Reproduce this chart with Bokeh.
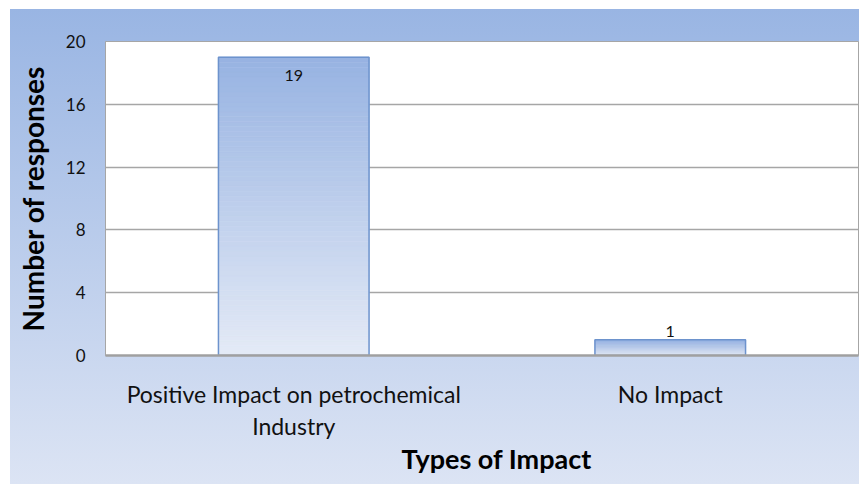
import numpy as np
from bokeh.plotting import figure
from bokeh.models import FixedTicker, Title, ColumnDataSource
from bokeh.embed import file_html
from bokeh.resources import INLINE
from bokeh.core.properties import value

# ---- data ----
categories = ["Positive Impact on petrochemical\nIndustry", "No Impact"]
responses = [19, 1]
y_ticks = [0, 4, 8, 12, 16, 20]
x_title = "Types of Impact"
y_title = "Number of responses"

# ---- layout ----
W, H = 859, 484
FL, FR, FT, FB = 105, 858, 41, 355
FONT = "Lato"

p = figure(width=W, height=H, output_backend="svg", toolbar_location=None,
           x_range=categories, y_range=(0, max(y_ticks)),
           min_border_left=FL, min_border_right=W - FR,
           min_border_top=FT, min_border_bottom=H - FB)
p.x_range.range_padding = 0
p.border_fill_alpha = 0
p.background_fill_color = "white"
p.outline_line_color = "#a6a6a6"
p.outline_line_width = 1
# chart-area gradient (behind the transparent canvas border)
p.styles = {"background": "linear-gradient(to bottom, #99b5e3 0%, #dce4f4 100%) "
                          "10px 9px / 849px 475px no-repeat, #ffffff"}

# ---- bars with vertical gradient ----
bar_top_c = np.array([0x97, 0xb3, 0xe2], dtype=float)
bar_bot_c = np.array([0xe4, 0xea, 0xf6], dtype=float)
N = 60
sx, sb, st, sc = [], [], [], []
for k in range(N):
    f0, f1 = k / N, (k + 1) / N
    t = (f0 + f1) / 2
    c = bar_bot_c + (bar_top_c - bar_bot_c) * t
    col = "#%02x%02x%02x" % tuple(int(round(v)) for v in c)
    for cat, v in zip(categories, responses):
        sx.append(cat)
        sb.append(v * f0)
        st.append(v * f1)
        sc.append(col)
slices = ColumnDataSource(dict(x=sx, bottom=sb, top=st, color=sc))
p.vbar(x="x", bottom="bottom", top="top", width=0.4, source=slices,
       fill_color="color", line_color="color", line_width=0.6)
p.vbar(x=categories, bottom=0, top=responses, width=0.4, fill_color=None,
       line_color="#6d93cd", line_width=1.5)

# ---- data labels ----
ymax = max(y_ticks)
offs = [18 if v >= 0.5 * ymax else -8 for v in responses]
p.text(x=categories, y=responses, text=[str(v) for v in responses], y_offset=offs,
       text_align="center", text_baseline="middle", text_font=value(FONT),
       text_font_size="16px", text_color="#111111")

# ---- axes ----
p.yaxis.ticker = FixedTicker(ticks=y_ticks)
p.ygrid.ticker = FixedTicker(ticks=y_ticks)
p.ygrid.grid_line_color = "#a6a6a6"
p.ygrid.grid_line_width = 1.5
p.xgrid.visible = False

p.yaxis.axis_line_color = "#a6a6a6"
p.yaxis.axis_line_width = 1
p.yaxis.major_tick_line_color = None
p.yaxis.minor_tick_line_color = None
p.yaxis.major_tick_out = 0
p.yaxis.major_label_standoff = 20
p.yaxis.major_label_text_font = FONT
p.yaxis.major_label_text_font_size = "17px"
p.yaxis.major_label_text_color = "#111111"
p.yaxis.axis_label = y_title
p.yaxis.axis_label_text_font = FONT
p.yaxis.axis_label_text_font_size = "28px"
p.yaxis.axis_label_text_font_style = "bold"
p.yaxis.axis_label_text_color = "#000000"
p.yaxis.axis_label_standoff = 13

p.xaxis.axis_line_color = "#a0a0a0"
p.xaxis.axis_line_width = 2.5
p.xaxis.major_tick_line_color = None
p.xaxis.minor_tick_line_color = None
p.xaxis.major_tick_out = 0
p.xaxis.major_label_standoff = 24
p.xaxis.major_label_text_font = FONT
p.xaxis.major_label_text_font_size = "23px"
p.xaxis.major_label_text_color = "#111111"
p.xaxis.major_label_text_line_height = 1.15

p.add_layout(Title(text=x_title, align="left", offset=296, standoff=-6,
                   text_font=FONT, text_font_size="27px", text_font_style="bold",
                   text_color="#000000"), "below")

open("out.html", "w").write(file_html(p, INLINE))
